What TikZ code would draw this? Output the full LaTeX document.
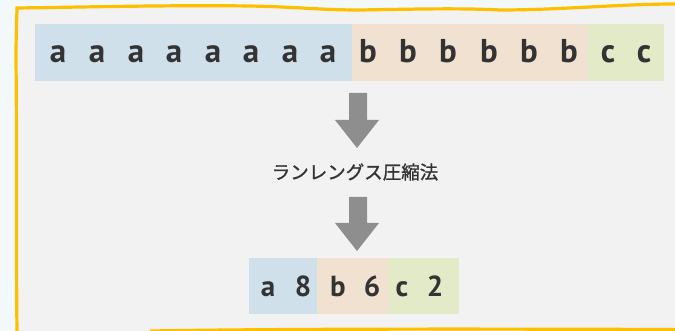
\documentclass[tikz,border=0pt]{standalone}
\usepackage{fontspec}
\setmainfont{PT Sans}
\newfontfamily\jpfont[FakeBold=1.2]{Noto Sans CJK JP}
\definecolor{outerbg}{HTML}{F3F8FB}
\definecolor{panel}{HTML}{F2F2F2}
\definecolor{frame}{HTML}{FDC000}
\definecolor{cblue}{HTML}{CFE0EA}
\definecolor{cbeige}{HTML}{F0E1D0}
\definecolor{cgreen}{HTML}{E2EAC7}
\definecolor{ink}{HTML}{333333}
\definecolor{arrowgray}{HTML}{8E8E8E}
\tikzset{
  seg/.style={draw=none, rectangle, inner sep=0pt, anchor=north west},
  big/.style={text=ink, font=\fontsize{33}{33}\selectfont\bfseries, anchor=base, inner sep=0pt},
  small/.style={text=ink, font=\fontsize{29}{29}\selectfont\bfseries, anchor=base, inner sep=0pt},
  jp/.style={text=ink, font=\jpfont\fontsize{18.5}{18.5}\selectfont, inner sep=0pt},
  fatarrow/.style={fill=arrowgray, draw=none}
}
\begin{document}
\begin{tikzpicture}[x=1pt,y=-1pt]
\useasboundingbox (0,0) rectangle (675,331);
\fill[outerbg] (0,0) rectangle (675,331);
% panel
\fill[panel] (17,8) .. controls (90,7) and (170,5) .. (250,6)
  .. controls (300,7) and (320,10) .. (360,10)
  .. controls (420,9) and (460,8) .. (500,10)
  .. controls (560,10) and (620,4) .. (675,4)
  -- (675,331) -- (17,331) -- cycle;
% frame
\draw[frame, line width=3.2pt, line cap=round]
  (17,331) .. controls (16,250) and (17,150) .. (16,60)
  .. controls (16,30) and (17,15) .. (17,8)
  .. controls (90,7) and (170,5) .. (250,6)
  .. controls (300,7) and (320,10) .. (360,10)
  .. controls (420,9) and (460,8) .. (500,10)
  .. controls (560,10) and (620,4) .. (676,4);
\draw[frame, line width=3.2pt] (150,331) .. controls (300,328.5) and (500,329) .. (676,329.5);
% top row
\node[seg, fill=cblue, minimum width=317, minimum height=57] (sa) at (35,24) {};
\node[seg, fill=cbeige, minimum width=236, minimum height=57] (sb) at (352,24) {};
\node[seg, fill=cgreen, minimum width=76, minimum height=57] (sc) at (588,24) {};
\foreach \x [count=\i] in {58,97,136,174,213,251,290,328} {
  \node[big] (a\i) at (\x,63) {a};
}
\foreach \x [count=\i] in {368,408,448,489,529,569} {
  \node[big] (b\i) at (\x,63) {b};
}
\foreach \x [count=\i] in {608,644} {
  \node[big] (c\i) at (\x,63) {c};
}
% arrows
\fill[fatarrow] (349,93) -- (367,93) -- (367,120) -- (379,120) -- (357,148) -- (335,120) -- (349,120) -- cycle;
\node[jp] (rle) at (355,172) {ランレングス圧縮法};
\fill[fatarrow] (349,197) -- (367,197) -- (367,223) -- (379,223) -- (357,251) -- (335,223) -- (349,223) -- cycle;
% bottom row
\node[seg, fill=cblue, minimum width=68, minimum height=56] (ra) at (249,258) {};
\node[seg, fill=cbeige, minimum width=71, minimum height=56] (rb) at (317,258) {};
\node[seg, fill=cgreen, minimum width=71, minimum height=56] (rc) at (388,258) {};
\node[small] (ta) at (268,297) {a};
\node[small] (t8) at (303,297) {8};
\node[small] (tb) at (338,297) {b};
\node[small] (t6) at (372,297) {6};
\node[small] (tc) at (402,297) {c};
\node[small] (t2) at (435,297) {2};
\end{tikzpicture}
\end{document}
